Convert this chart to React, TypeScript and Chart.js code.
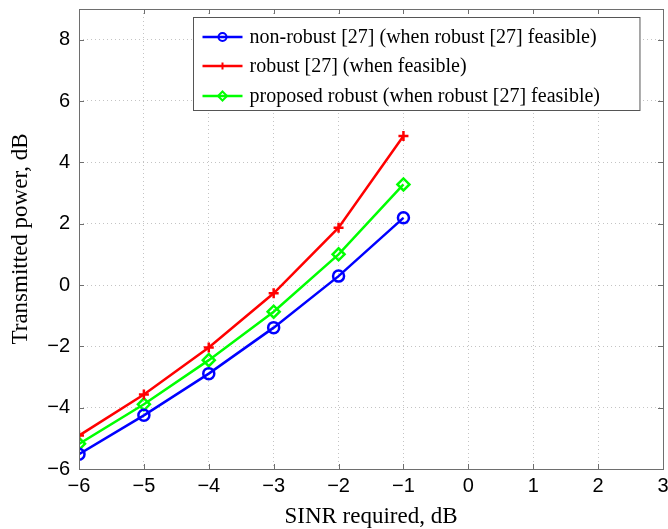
import React, { useEffect, useRef } from "react";
import { Chart, registerables } from "chart.js";

Chart.register(...registerables);

// SINR requirement (dB) on the horizontal axis
const sinrRequired = [-6, -5, -4, -3, -2, -1];

// Transmitted power (dB) for each scheme
const nonRobust = [-5.52, -4.25, -2.89, -1.39, 0.29, 2.19];
const robust = [-4.91, -3.57, -2.04, -0.27, 1.87, 4.86];
const proposedRobust = [-5.18, -3.89, -2.45, -0.87, 1.0, 3.28];

const seriesLabels = [
  "non-robust [27] (when robust [27] feasible)",
  "robust [27] (when feasible)",
  "proposed robust (when robust [27] feasible)",
];

const xTicks = [-6, -5, -4, -3, -2, -1, 0, 1, 2, 3];
const yTicks = [-6, -4, -2, 0, 2, 4, 6, 8];

const SERIF = '"Liberation Serif", "Times New Roman", serif';
const SANS = '"Liberation Sans", Arial, sans-serif';

const minus = (v: number) => String(v).replace("-", "\u2212");

function drawMarker(ctx: CanvasRenderingContext2D, style: string, x: number, y: number, r: number, color: string) {
  ctx.save();
  ctx.strokeStyle = color;
  ctx.lineWidth = 2;
  ctx.beginPath();
  if (style === "circle") {
    ctx.arc(x, y, r, 0, Math.PI * 2);
  } else if (style === "cross") {
    ctx.moveTo(x - r, y);
    ctx.lineTo(x + r, y);
    ctx.moveTo(x, y - r);
    ctx.lineTo(x, y + r);
  } else {
    ctx.moveTo(x, y - r);
    ctx.lineTo(x + r, y);
    ctx.lineTo(x, y + r);
    ctx.lineTo(x - r, y);
    ctx.closePath();
  }
  ctx.stroke();
  ctx.restore();
}

// Axis box with inward tick marks on all four sides
const frameTicks = {
  id: "frameTicks",
  afterDatasetsDraw(chart: any) {
    const { ctx, chartArea } = chart;
    const { left, right, top, bottom } = chartArea;
    const xs = chart.scales.x;
    const ys = chart.scales.y;
    const len = 5;
    ctx.save();
    ctx.strokeStyle = "#6e6e6e";
    ctx.lineWidth = 1;
    ctx.beginPath();
    xTicks.forEach((v) => {
      const px = Math.round(xs.getPixelForValue(v)) + 0.5;
      ctx.moveTo(px, bottom);
      ctx.lineTo(px, bottom - len);
      ctx.moveTo(px, top);
      ctx.lineTo(px, top + len);
    });
    yTicks.forEach((v) => {
      const py = Math.round(ys.getPixelForValue(v)) + 0.5;
      ctx.moveTo(left, py);
      ctx.lineTo(left + len, py);
      ctx.moveTo(right, py);
      ctx.lineTo(right - len, py);
    });
    ctx.stroke();
    ctx.strokeRect(Math.round(left) + 0.5, Math.round(top) + 0.5, Math.round(right - left), Math.round(bottom - top));
    ctx.restore();
  },
};

// Boxed legend in the upper right of the plot area
const boxedLegend = {
  id: "boxedLegend",
  afterDraw(chart: any) {
    const { ctx, chartArea } = chart;
    const sets = chart.data.datasets;
    ctx.save();
    ctx.font = `20px ${SERIF}`;
    const textW = Math.max(...sets.map((d: any) => ctx.measureText(d.label).width));
    const rowH = 29.5;
    const w = 56 + textW + 40;
    const h = 19 + 15 + rowH * (sets.length - 1);
    const x = Math.round(chartArea.right - 24 - w) + 0.5;
    const y = Math.round(chartArea.top + 8) + 0.5;
    ctx.fillStyle = "#ffffff";
    ctx.fillRect(x, y, w, h);
    ctx.strokeStyle = "#555555";
    ctx.lineWidth = 1;
    ctx.strokeRect(x, y, w, h);
    sets.forEach((d: any, i: number) => {
      const cy = Math.round(y + 19 + i * rowH);
      ctx.strokeStyle = d.borderColor;
      ctx.lineWidth = 2.5;
      ctx.beginPath();
      ctx.moveTo(x + 9, cy);
      ctx.lineTo(x + 49, cy);
      ctx.stroke();
      drawMarker(ctx, d.pointStyle, x + 29, cy, d.pointRadius - 1.5, d.borderColor);
      ctx.fillStyle = "#000000";
      ctx.textAlign = "left";
      ctx.textBaseline = "middle";
      ctx.fillText(d.label, x + 56, cy + 1);
    });
    ctx.restore();
  },
};

export default function App() {
  const canvasRef = useRef<HTMLCanvasElement | null>(null);

  useEffect(() => {
    if (!canvasRef.current) return;
    const mk = (data: number[]) => sinrRequired.map((x, i) => ({ x, y: data[i] }));
    const chart = new Chart(canvasRef.current, {
      type: "line",
      data: {
        datasets: [
          {
            label: seriesLabels[0],
            data: mk(nonRobust),
            borderColor: "#0000ff",
            backgroundColor: "rgba(0,0,0,0)",
            borderWidth: 2.5,
            pointStyle: "circle",
            pointRadius: 5.5,
            pointBorderWidth: 2.5,
          },
          {
            label: seriesLabels[1],
            data: mk(robust),
            borderColor: "#ff0000",
            backgroundColor: "rgba(0,0,0,0)",
            borderWidth: 2.5,
            pointStyle: "cross",
            pointRadius: 5,
            pointBorderWidth: 2.5,
          },
          {
            label: seriesLabels[2],
            data: mk(proposedRobust),
            borderColor: "#00ff00",
            backgroundColor: "rgba(0,0,0,0)",
            borderWidth: 2.5,
            pointStyle: "rectRot",
            pointRadius: 6,
            pointBorderWidth: 2.5,
          },
        ],
      },
      options: {
        responsive: false,
        animation: false,
        layout: { autoPadding: false, padding: { left: 0, right: 5, top: 9, bottom: 0 } },
        plugins: { legend: { display: false }, tooltip: { enabled: false } },
        scales: {
          x: {
            type: "linear",
            min: -6,
            max: 3,
            afterBuildTicks: (s: any) => {
              s.ticks = xTicks.map((value) => ({ value }));
            },
            afterFit: (s: any) => {
              s.height = 60;
              s.paddingLeft = 0;
              s.paddingRight = 0;
            },
            grid: { color: "#c4c4c4", lineWidth: 1, drawTicks: false },
            border: { display: false, dash: [1, 3] },
            ticks: {
              padding: 5,
              color: "#000000",
              font: { family: SANS, size: 20 },
              callback: (v: any) => minus(Number(v)),
              maxRotation: 0,
            },
            title: {
              display: true,
              text: "SINR required, dB",
              color: "#000000",
              font: { family: SERIF, size: 23 },
              padding: { top: 0, bottom: -2 },
            },
          },
          y: {
            type: "linear",
            min: -6,
            max: 9,
            afterBuildTicks: (s: any) => {
              s.ticks = yTicks.map((value) => ({ value }));
            },
            afterFit: (s: any) => {
              s.width = 79;
              s.paddingTop = 0;
              s.paddingBottom = 0;
            },
            grid: { color: "#c4c4c4", lineWidth: 1, drawTicks: false },
            border: { display: false, dash: [1, 3] },
            ticks: {
              padding: 9,
              color: "#000000",
              font: { family: SANS, size: 20 },
              callback: (v: any) => minus(Number(v)),
            },
            title: {
              display: true,
              text: "Transmitted power, dB",
              color: "#000000",
              font: { family: SERIF, size: 23 },
              padding: { top: 7, bottom: 0 },
            },
          },
        },
      },
      plugins: [frameTicks, boxedLegend],
    } as any);
    return () => chart.destroy();
  }, []);

  return (
    <div style={{ position: "fixed", left: 0, top: 0, width: 668, height: 529, background: "#ffffff" }}>
      <canvas ref={canvasRef} width={668} height={529} style={{ display: "block" }} />
    </div>
  );
}
